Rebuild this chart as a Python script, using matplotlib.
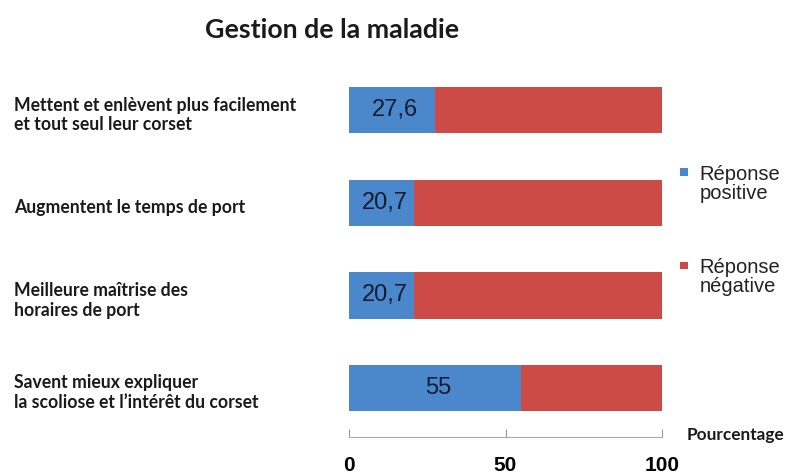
import matplotlib.pyplot as plt
from matplotlib.patches import Rectangle
from matplotlib.legend_handler import HandlerPatch

categories = ['Mettent et enlèvent plus facilement\net tout seul leur corset',
              'Augmentent le temps de port',
              'Meilleure maîtrise des\nhoraires de port',
              'Savent mieux expliquer\nla scoliose et l\u2019intérêt du corset']
positive = [27.6, 20.7, 20.7, 55]
value_labels = ['27,6', '20,7', '20,7', '55']
negative = [100 - v for v in positive]
xticks = [0, 50, 100]
series_names = ['Réponse\npositive', 'Réponse\nnégative']

blue = '#4a87cb'
red = '#cd4b47'


def top_square(legend, orig_handle, xdescent, ydescent, width, height, fontsize):
    sq = 5.5
    return Rectangle((-xdescent + width - sq - 4, -ydescent + height - sq), sq, sq)


fig = plt.figure(figsize=(7.99, 4.75), dpi=100)
ax = fig.add_axes([349/799, (475-437)/475, 313/799, (437-64)/475])

ypos = list(range(len(categories)))
b1 = ax.barh(ypos, positive, height=0.5, color=blue, label=series_names[0])
b2 = ax.barh(ypos, negative, left=positive, height=0.5, color=red, label=series_names[1])

for y, v, lab in zip(ypos, positive, value_labels):
    ax.text(v/2 + 1, y, lab, ha='center', va='center', fontsize=17,
            family='Liberation Sans', color='#151b2e')

ax.set_ylim(3.53, -0.5)
ax.set_xlim(0, 100)
ax.set_yticks([])
ax.set_xticks(xticks)
ax.set_xticklabels([str(t) for t in xticks], fontsize=15, fontweight='bold',
                   family='Liberation Sans')
ax.tick_params(axis='x', direction='in', length=6, color='#999999', pad=14)
for s in ['top', 'right', 'left']:
    ax.spines[s].set_visible(False)
ax.spines['bottom'].set_color('#aaaaaa')

for y, c in zip(ypos, categories):
    yfig = ax.transData.transform((0, y))[1]
    fig.text(14/799, yfig/475 - 0.01, c, ha='left', va='center', fontsize=12.7,
             fontweight='bold', family='Lato', color='#1a1a1a', linespacing=1.2)

fig.text(332/799, 1 - 30/475, 'Gestion de la maladie', ha='center', va='center',
         fontsize=19.3, fontweight='bold', family='Lato', color='#1a1a1a')
fig.text(687/799, 1 - 435/475, 'Pourcentage', ha='left', va='center',
         fontsize=12.4, fontweight='bold', family='Lato', color='#1a1a1a')

h1, h2 = b1.patches[0], b2.patches[0]
leg = fig.legend(handles=[h1, h2], labels=series_names, loc='upper left',
                 bbox_to_anchor=(659/799, 1 - 155/475),
                 frameon=False, prop={'family': 'Liberation Sans', 'size': 14.5},
                 handlelength=1.2, handleheight=2.2, handletextpad=0.3,
                 labelspacing=2.75, borderpad=0,
                 handler_map={h1: HandlerPatch(patch_func=top_square),
                              h2: HandlerPatch(patch_func=top_square)})
for t in leg.get_texts():
    t.set_linespacing(1.0)
    t.set_color('#222222')

fig.savefig('out.png', dpi=100)
